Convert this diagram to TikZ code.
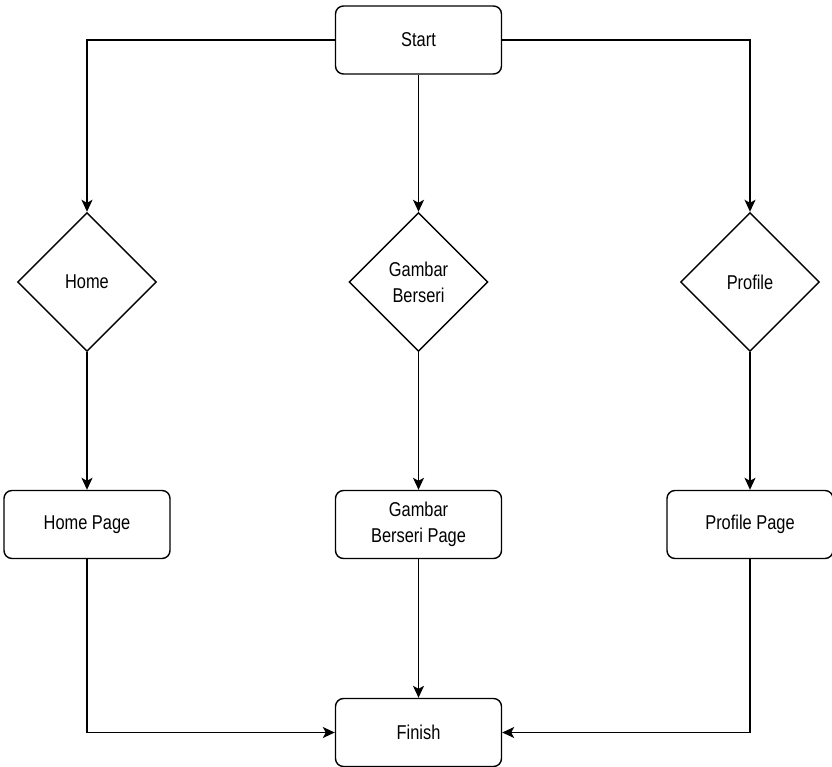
\documentclass[tikz,border=0pt]{standalone}
\usepackage{fontspec}
\setmainfont{Liberation Sans}[FakeStretch=0.82]
\usepackage{tikz}
\usetikzlibrary{shapes.geometric,arrows.meta,positioning}

\begin{document}
\begin{tikzpicture}[x=1pt,y=-1pt,
    box/.style={rectangle,rounded corners=8pt,draw,line width=1.4pt,minimum width=166pt,minimum height=68pt,align=center,font=\fontsize{20}{26}\selectfont},
    decision/.style={diamond,draw,line width=1.4pt,aspect=1,inner sep=0pt,minimum width=139pt,minimum height=139pt,align=center,font=\fontsize{20}{26}\selectfont},
    arr/.style={-{Stealth[length=12pt,width=11pt,inset=3pt]},line width=1.4pt}]
    \useasboundingbox (0,0) rectangle (832,767);

    \node[box] (start) at (418.5,40) {Start};

    \node[decision] (home) at (87,282) {Home};
    \node[decision] (gambar) at (418.5,282) {Gambar\\Berseri};
    \node[decision] (profile) at (750,282) {Profile};

    \node[box] (homepage) at (87,524.5) {Home Page};
    \node[box] (gambarpage) at (418.5,524.5) {Gambar\\Berseri Page};
    \node[box] (profilepage) at (750,524.5) {Profile Page};

    \node[box] (finish) at (418.5,732.5) {Finish};

    \draw[arr] (start.west) -| (home.north);
    \draw[arr] (start) -- (gambar);
    \draw[arr] (start.east) -| (profile.north);

    \draw[arr] (home) -- (homepage);
    \draw[arr] (gambar) -- (gambarpage);
    \draw[arr] (profile) -- (profilepage);

    \draw[arr] (homepage.south) |- (finish.west);
    \draw[arr] (gambarpage) -- (finish);
    \draw[arr] (profilepage.south) |- (finish.east);
\end{tikzpicture}
\end{document}
